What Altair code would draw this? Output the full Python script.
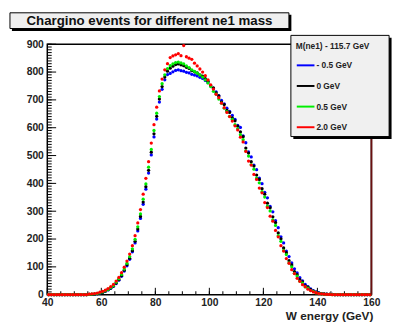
import altair as alt
import pandas as pd

# ---------------- data ----------------
bin_low = list(range(40, 160))  # 1 GeV bins, lower edges 40..159

series_names = ["- 0.5 GeV", "0 GeV", "0.5 GeV", "2.0 GeV"]
series_colors = ["#0000ff", "#000000", "#00ee00", "#ff0000"]
legend_header = "M(ne1) - 115.7 GeV"
title_text = "Chargino events for different ne1 mass"
x_title = "W energy (GeV)"

x_major = [40, 60, 80, 100, 120, 140, 160]
x_minor = [40, 45, 50, 55, 60, 65, 70, 75, 80, 85, 90, 95, 100, 105, 110, 115,
           120, 125, 130, 135, 140, 145, 150, 155, 160]
y_major = [0, 100, 200, 300, 400, 500, 600, 700, 800, 900]
y_minor = list(range(0, 901, 10))

blue = [
    0, 0, 0, 0, 0, 0, 0, 0, 0, 0,
    0, 0, 0, 0, 0, 1, 1, 2, 3, 5,
    8, 12, 17, 23, 30, 40, 52, 66, 85, 104,
    127, 154, 186, 229, 274, 325, 379, 437, 502, 567,
    631, 692, 738, 772, 791, 795, 801, 806, 808, 805,
    803, 799, 797, 792, 789, 786, 781, 777, 770, 762,
    750, 741, 729, 715, 698, 686, 670, 659, 644, 630,
    608, 601, 571, 546, 513, 495, 466, 449, 419, 399,
    368, 348, 317, 298, 266, 241, 208, 186, 157, 137,
    114, 93, 78, 61, 50, 37, 29, 21, 15, 10,
    7, 4, 3, 2, 1, 1, 0, 0, 0, 0,
    0, 0, 0, 0, 0, 0, 0, 0, 0, 0,
]
black = [
    0, 0, 0, 0, 0, 0, 0, 0, 0, 0,
    0, 0, 0, 0, 0, 1, 1, 2, 4, 6,
    9, 13, 18, 24, 31, 42, 54, 69, 88, 108,
    131, 158, 192, 236, 281, 333, 388, 447, 512, 578,
    641, 703, 748, 782, 803, 814, 821, 827, 829, 826,
    823, 817, 813, 805, 801, 797, 790, 785, 776, 767,
    751, 743, 725, 714, 692, 683, 662, 655, 635, 625,
    606, 585, 568, 527, 509, 478, 462, 430, 414, 381,
    361, 329, 312, 280, 259, 222, 201, 168, 151, 122,
    107, 83, 72, 54, 46, 32, 27, 18, 13, 9,
    6, 4, 3, 2, 1, 1, 0, 0, 0, 0,
    0, 0, 0, 0, 0, 0, 0, 0, 0, 0,
]
green = [
    0, 0, 0, 0, 0, 0, 0, 0, 0, 0,
    0, 0, 0, 0, 0, 1, 2, 3, 4, 7,
    10, 14, 19, 26, 33, 45, 57, 73, 92, 113,
    137, 165, 199, 244, 290, 343, 398, 458, 522, 590,
    652, 712, 758, 790, 812, 823, 829, 834, 836, 833,
    829, 822, 816, 808, 802, 796, 789, 782, 772, 761,
    748, 731, 721, 703, 688, 670, 658, 641, 630, 611,
    597, 575, 557, 517, 498, 467, 451, 419, 402, 370,
    351, 318, 301, 269, 249, 212, 192, 159, 144, 114,
    100, 77, 67, 48, 42, 28, 24, 15, 12, 7,
    5, 3, 2, 1, 1, 0, 0, 0, 0, 0,
    0, 0, 0, 0, 0, 0, 0, 0, 0, 0,
]
red = [
    0, 0, 0, 0, 0, 0, 0, 0, 0, 0,
    0, 0, 0, 0, 0, 2, 3, 4, 6, 9,
    12, 16, 22, 29, 37, 49, 62, 79, 99, 121,
    146, 176, 212, 258, 306, 361, 418, 478, 545, 611,
    674, 732, 775, 808, 830, 852, 858, 862, 866, 859,
    895, 855, 850, 846, 832, 822, 811, 800, 787, 772,
    754, 739, 720, 708, 688, 672, 655, 640, 624, 607,
    592, 566, 549, 515, 480, 466, 432, 414, 383, 366,
    331, 313, 282, 264, 231, 208, 176, 157, 130, 113,
    90, 76, 59, 48, 36, 29, 20, 15, 10, 7,
    4, 3, 2, 1, 1, 0, 0, 0, 0, 0,
    0, 0, 0, 0, 0, 0, 0, 0, 0, 0,
]

rows = []
for name, vals in zip(series_names, [blue, black, green, red]):
    for lo, v in zip(bin_low, vals):
        rows.append({"E": lo + 0.5, "N": v, "s": name})
df = pd.DataFrame(rows)

# ---------------- chart ----------------
W, H = 330, 255
FONT = "Liberation Sans"
xs = alt.Scale(domain=[40, 160], nice=False, zero=False)
ys = alt.Scale(domain=[0, 900], nice=False)

xaxis = alt.Axis(values=x_major, title=None, ticks=False, domain=False, grid=False,
                 labelFont=FONT, labelFontWeight="bold", labelFontSize=10.5,
                 labelColor="#222222", labelPadding=3, labelFlush=False)
yaxis = alt.Axis(values=y_major, title=None, ticks=False, domain=False, grid=False,
                 labelFont=FONT, labelFontWeight="bold", labelFontSize=10.5,
                 labelColor="#222222", labelPadding=4)

one = alt.Data(values=[{}])

points = alt.Chart(df).mark_circle(size=11, opacity=1).encode(
    x=alt.X("E:Q", scale=xs, axis=xaxis),
    y=alt.Y("N:Q", scale=ys, axis=yaxis),
    color=alt.Color("s:N", scale=alt.Scale(domain=series_names, range=series_colors), legend=None),
)

xt_major = alt.Chart(pd.DataFrame({"E": x_major})).mark_rule(color="black", strokeWidth=1).encode(
    x=alt.X("E:Q", scale=xs, axis=xaxis), y=alt.value(H), y2=alt.value(H - 7))
xt_minor = alt.Chart(pd.DataFrame({"E": x_minor})).mark_rule(color="black", strokeWidth=1).encode(
    x=alt.X("E:Q", scale=xs, axis=xaxis), y=alt.value(H), y2=alt.value(H - 3.5))
yt_major = alt.Chart(pd.DataFrame({"N": y_major})).mark_rule(color="black", strokeWidth=1).encode(
    y=alt.Y("N:Q", scale=ys, axis=yaxis), x=alt.value(0), x2=alt.value(9))
yt_minor = alt.Chart(pd.DataFrame({"N": y_minor})).mark_rule(color="black", strokeWidth=1).encode(
    y=alt.Y("N:Q", scale=ys, axis=yaxis), x=alt.value(0), x2=alt.value(4.5))

right_edge = alt.Chart(pd.DataFrame({"E": [160]})).mark_rule(color="#6a1010", strokeWidth=1.8).encode(
    x=alt.X("E:Q", scale=xs, axis=xaxis), y=alt.value(0), y2=alt.value(H))

# title box
t_shadow = alt.Chart(one).mark_rect(fill="black").encode(
    x=alt.value(-36), x2=alt.value(248.5), y=alt.value(-30), y2=alt.value(-13.5))
t_box = alt.Chart(one).mark_rect(fill="#efefef", stroke="black", strokeWidth=1).encode(
    x=alt.value(-38), x2=alt.value(246), y=alt.value(-32), y2=alt.value(-16))
t_text = alt.Chart(one).mark_text(font=FONT, fontWeight="bold", fontSize=13.5, color="#111111",
                                  align="center", baseline="middle").encode(
    x=alt.value(104), y=alt.value(-23.5), text=alt.value(title_text))

# legend box
l_shadow = alt.Chart(one).mark_rect(fill="black").encode(
    x=alt.value(250.5), x2=alt.value(350.5), y=alt.value(-6.5), y2=alt.value(96.5))
l_box = alt.Chart(one).mark_rect(fill="#f0f0f0", stroke="black", strokeWidth=1).encode(
    x=alt.value(248), x2=alt.value(348), y=alt.value(-9), y2=alt.value(94))
l_head = alt.Chart(one).mark_text(font=FONT, fontWeight="bold", fontSize=8.5, color="#222222",
                                  align="left", baseline="middle").encode(
    x=alt.value(253), y=alt.value(2), text=alt.value(legend_header))

legend_layers = []
for i, (name, col) in enumerate(zip(series_names, series_colors)):
    yy = 21.5 + i * 21
    legend_layers.append(alt.Chart(one).mark_rule(strokeWidth=2).encode(
        x=alt.value(254), x2=alt.value(272), y=alt.value(yy), color=alt.value(col)))
    legend_layers.append(alt.Chart(one).mark_text(font=FONT, fontWeight="bold", fontSize=8.5,
                                                  color="#222222", align="left", baseline="middle").encode(
        x=alt.value(274), y=alt.value(yy), text=alt.value(name)))

x_label = alt.Chart(one).mark_text(font=FONT, fontWeight="bold", fontSize=12, color="#222222",
                                   align="right", baseline="middle").encode(
    x=alt.value(332), y=alt.value(277), text=alt.value(x_title))

chart = alt.layer(
    xt_minor, xt_major, yt_minor, yt_major, points, right_edge,
    t_shadow, t_box, t_text, l_shadow, l_box, l_head, *legend_layers, x_label,
).properties(
    width=W, height=H,
    padding={"left": 40, "top": 34, "right": 24, "bottom": 30},
    autosize=alt.AutoSizeParams(type="none"),
    background="white",
).configure_view(stroke="black", strokeWidth=1.5)

chart.save("out.html", embed_options={"renderer": "svg", "actions": False})
